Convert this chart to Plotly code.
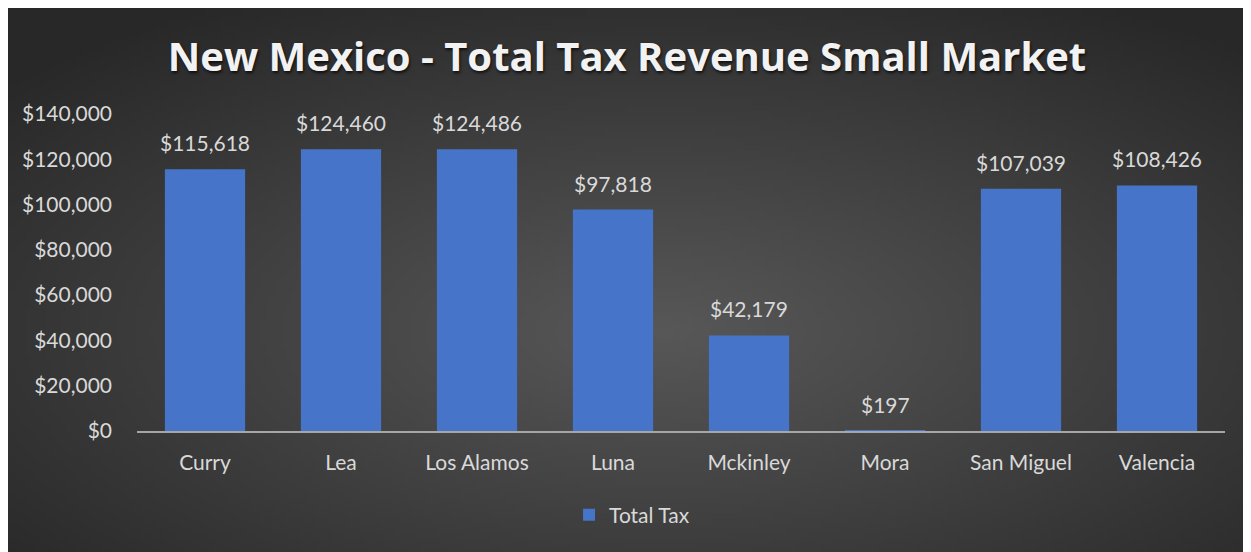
import base64
import struct
import zlib

import plotly.graph_objects as go

counties = ["Curry", "Lea", "Los Alamos", "Luna", "Mckinley", "Mora", "San Miguel", "Valencia"]
total_tax = [115618, 124460, 124486, 97818, 42179, 197, 107039, 108426]
y_ticks = [0, 20000, 40000, 60000, 80000, 100000, 120000, 140000]

W, H = 1251, 552
L, R, T, B = 129, 34, 106, 129
FONT = "Lato"
TEXT = "#d9d9d9"


def radial_png(w=250, h=110):
    rows = []
    for j in range(h):
        row = bytearray([0])
        for i in range(w):
            dx = (i - w * 0.52) / (w / 2)
            dy = (j - h * 0.58) / (h / 2)
            r = (dx * dx + dy * dy) ** 0.5
            v = int(88 - 48 * min(1.0, r / 1.4))
            row.append(v)
        rows.append(bytes(row))
    raw = b"".join(rows)

    def chunk(tag, data):
        c = struct.pack(">I", len(data)) + tag + data
        return c + struct.pack(">I", zlib.crc32(tag + data) & 0xFFFFFFFF)

    png = b"\x89PNG\r\n\x1a\n"
    png += chunk(b"IHDR", struct.pack(">IIBBBBB", w, h, 8, 0, 0, 0, 0))
    png += chunk(b"IDAT", zlib.compress(raw, 9))
    png += chunk(b"IEND", b"")
    return "data:image/png;base64," + base64.b64encode(png).decode()


pw, ph = W - L - R, H - T - B

fig = go.Figure()
fig.add_bar(
    x=counties,
    y=total_tax,
    name="Total Tax",
    marker=dict(color="#4674c9", line=dict(width=0)),
)

for c, v in zip(counties, total_tax):
    fig.add_annotation(
        x=c, y=v, text=f"${v:,.0f}", showarrow=False,
        yanchor="bottom", yshift=12,
        font=dict(family=FONT, size=21, color=TEXT),
    )

fig.add_layout_image(
    source=radial_png(),
    xref="paper", yref="paper",
    x=-L / pw, y=(H - B) / ph,
    sizex=W / pw, sizey=H / ph,
    sizing="stretch", layer="below",
    xanchor="left", yanchor="top",
)

fig.update_layout(
    width=W, height=H,
    margin=dict(l=L, r=R, t=T, b=B),
    paper_bgcolor="#2b2b2b",
    plot_bgcolor="rgba(0,0,0,0)",
    bargap=0.41,
    title=dict(
        text="<b>New Mexico - Total Tax Revenue Small Market</b>",
        x=(627 - 8) / W, xanchor="center",
        y=1 - 49 / H, yanchor="middle",
        font=dict(family="Open Sans", size=40, color="#f2f2f2", shadow="1px 2px 3px rgba(0,0,0,0.7)"),
    ),
    showlegend=True,
    legend=dict(
        orientation="h", x=0.455, xanchor="center",
        y=(H - B - 507) / ph, yanchor="middle",
        font=dict(family=FONT, size=21, color=TEXT),
        bgcolor="rgba(0,0,0,0)",
    ),
    xaxis=dict(
        showgrid=False, showline=True, linecolor="#a6a6a6", linewidth=2,
        ticks="", ticklabelstandoff=12,
        tickfont=dict(family=FONT, size=21, color=TEXT),
    ),
    yaxis=dict(
        range=[0, 140000], tickvals=y_ticks, tickformat="$,.0f",
        showgrid=False, zeroline=False, showline=False,
        ticks="", ticklabelstandoff=24,
        tickfont=dict(family=FONT, size=21, color=TEXT),
    ),
)

fig.write_html("out.html")
